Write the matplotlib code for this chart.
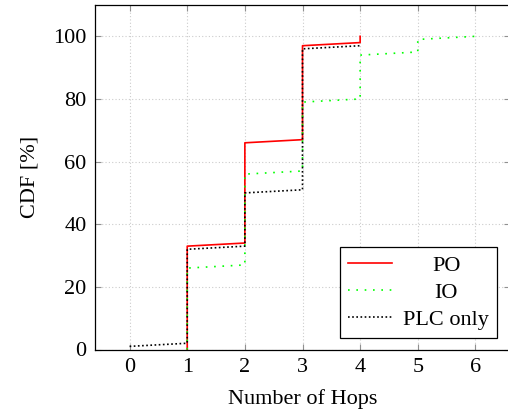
"""
plot.py
CDF of the number of hops for PO, IO and PLC-only routing.
"""

import matplotlib
matplotlib.use("Agg")
import matplotlib.pyplot as plt

# PO (red, solid)
po_hops = [1, 1, 2, 2, 3, 3, 4, 4]
po_cdf  = [0, 33, 34, 66, 67, 97, 98, 100]

# IO (green, dotted)
io_hops = [1, 1, 2, 2, 3, 3, 4, 4, 5, 5, 6]
io_cdf  = [0, 26, 27, 56, 57, 79, 80, 94, 95, 99, 100]

# PLC only (black, densely dotted)
plc_hops = [0, 1, 1, 2, 2, 3, 3, 4]
plc_cdf  = [1, 2, 32, 33, 50, 51, 96, 97]

x_ticks = [0, 1, 2, 3, 4, 5, 6]
y_ticks = [0, 20, 40, 60, 80, 100]
labels  = ["PO", "IO", "PLC only"]

plt.rcParams["font.family"] = ["Liberation Serif", "DejaVu Serif"]
plt.rcParams["font.size"] = 16

fig = plt.figure(figsize=(5.08, 4.18), dpi=100)
ax = fig.add_axes([95 / 508, 1 - 349.5 / 418, 415 / 508, 344.5 / 418])

lw = 1.2
ax.plot(po_hops, po_cdf, color="#ff0000", lw=lw, label=labels[0])
ax.plot(io_hops, io_cdf, color="#00ff00", lw=lw, ls=(0, (1, 4)), label=labels[1])
ax.plot(plc_hops, plc_cdf, color="black", lw=lw, ls=(0, (1, 1.5)), label=labels[2])

ax.set_xlim(-0.6, 6.6)
ax.set_ylim(0, 110)
ax.set_xticks(x_ticks)
ax.set_yticks(y_ticks)
ax.grid(True, color="#cccccc", ls=(0, (1, 2)), lw=0.8)
ax.set_axisbelow(True)
ax.tick_params(direction="in", top=True, right=True, length=4,
               color="#909090", width=0.8, pad=6)
for s in ax.spines.values():
    s.set_linewidth(0.9)

ax.set_xlabel("Number of Hops", labelpad=9)
ax.set_ylabel("CDF [%]", labelpad=10)

leg = ax.legend(loc="lower right", bbox_to_anchor=(497 / 508, 1 - 338 / 418),
                bbox_transform=fig.transFigure, fancybox=False, framealpha=1,
                edgecolor="black", borderaxespad=0, handlelength=2.0,
                handletextpad=0.5, labelspacing=0.3, borderpad=0.35)
leg.get_frame().set_linewidth(0.9)

# center the legend labels like pgfplots does
fig.canvas.draw()
renderer = fig.canvas.get_renderer()
widths = [t.get_window_extent(renderer).width for t in leg.get_texts()]
w_max = max(widths)
for t, w in zip(leg.get_texts(), widths):
    t.set_x((w_max - w) / 2)

plt.savefig("out.png", dpi=100)
plt.close()
